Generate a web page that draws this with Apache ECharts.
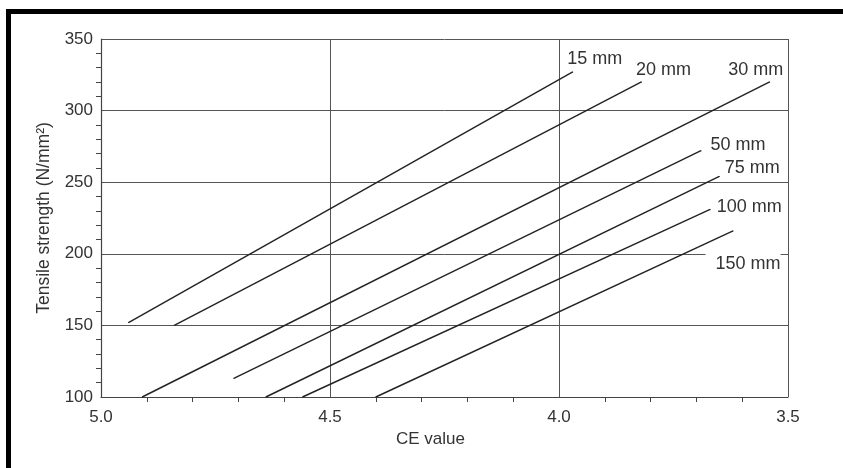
<!DOCTYPE html>
<html>
<head>
<meta charset="utf-8">
<script src="https://cdn.jsdelivr.net/npm/echarts@6/dist/echarts.min.js"></script>
<style>
  html, body { margin: 0; padding: 0; background: #fff; }
  #frame { position: absolute; left: 6px; top: 9px; width: 900px; height: 500px;
           border-left: 5px solid #000; border-top: 5px solid #000; box-sizing: border-box; }
  #chart { position: absolute; left: 0; top: 0; width: 843px; height: 468px; }
</style>
</head>
<body>
<div id="frame"></div>
<div id="chart"></div>
<script>
// Section thickness labels
const thickness = ['15 mm', '20 mm', '30 mm', '50 mm', '75 mm', '100 mm', '150 mm'];
// CE value (x) and tensile strength (y) endpoints of each straight line
const ce15 = [4.94, 3.97];  const ts15 = [152, 327];
const ce20 = [4.84, 3.82];  const ts20 = [150, 320];
const ce30 = [4.91, 3.54];  const ts30 = [100, 320];
const ce50 = [4.71, 3.69];  const ts50 = [113, 272];
const ce75 = [4.64, 3.65];  const ts75 = [100, 254];
const ce100 = [4.56, 3.67]; const ts100 = [100, 231];
const ce150 = [4.40, 3.62]; const ts150 = [100, 216];
// Axis tick values
const xTicks = [5.0, 4.5, 4.0, 3.5];
const yTicks = [100, 150, 200, 250, 300, 350];

const xs = [ce15, ce20, ce30, ce50, ce75, ce100, ce150];
const ys = [ts15, ts20, ts30, ts50, ts75, ts100, ts150];

const FONT = '"Liberation Sans", Arial, Helvetica, sans-serif';
const TXT = '#333';
const labelStyles = [
  { offset: [-6, -13] },
  { offset: [-6, -12] },
  { offset: [-42, -12] },
  { offset: [9, -6] },
  { offset: [5, -8] },
  { offset: [6, -2] },
  { offset: [-28, 33.5], backgroundColor: '#fff', padding: [7, 0, 2, 10] }
];

const series = thickness.map((name, i) => {
  const data = xs[i].map((x, j) => {
    const item = { value: [x, ys[i][j]] };
    if (j === xs[i].length - 1) {
      item.label = Object.assign({
        show: true, formatter: name, position: 'right', distance: 0,
        color: TXT, fontSize: 18, fontFamily: FONT
      }, labelStyles[i]);
    }
    return item;
  });
  return {
    name: name, type: 'line', data: data,
    symbol: 'circle', symbolSize: 1, showSymbol: true,
    itemStyle: { color: '#222' },
    lineStyle: { color: '#222', width: 1.4 },
    label: { show: false },
    animation: false, silent: true
  };
});

const chart = echarts.init(document.getElementById('chart'), null, { renderer: 'canvas' });
chart.setOption({
  backgroundColor: 'transparent',
  animation: false,
  grid: { left: 101, right: 55, top: 39, bottom: 71 },
  xAxis: {
    type: 'value', min: xTicks[xTicks.length - 1], max: xTicks[0], interval: 0.5, inverse: true,
    name: 'CE value', nameLocation: 'middle', nameGap: 34,
    nameTextStyle: { color: TXT, fontSize: 17, fontFamily: FONT, padding: [0, 28, 0, 0] },
    axisLine: { show: true, lineStyle: { color: '#444', width: 1.2 } },
    axisTick: { show: false },
    minorTick: { show: true, splitNumber: 5, length: 5, lineStyle: { color: '#444', width: 1 } },
    minorSplitLine: { show: false },
    axisLabel: { color: TXT, fontSize: 17, fontFamily: FONT, margin: 12,
                 formatter: v => v.toFixed(1) },
    splitLine: { show: true, lineStyle: { color: '#555', width: 1 } }
  },
  yAxis: {
    type: 'value', min: yTicks[0], max: yTicks[yTicks.length - 1], interval: 50,
    name: 'Tensile strength (N/mm²)', nameLocation: 'middle', nameGap: 48, nameRotate: 90,
    nameTextStyle: { color: TXT, fontSize: 17.5, fontFamily: FONT },
    axisLine: { show: true, lineStyle: { color: '#444', width: 1.2 } },
    axisTick: { show: false },
    minorTick: { show: true, splitNumber: 5, length: 5, lineStyle: { color: '#444', width: 1 } },
    axisLabel: { color: TXT, fontSize: 17, fontFamily: FONT, margin: 8 },
    splitLine: { show: true, lineStyle: { color: '#555', width: 1 } }
  },
  series: series
});
</script>
</body>
</html>
